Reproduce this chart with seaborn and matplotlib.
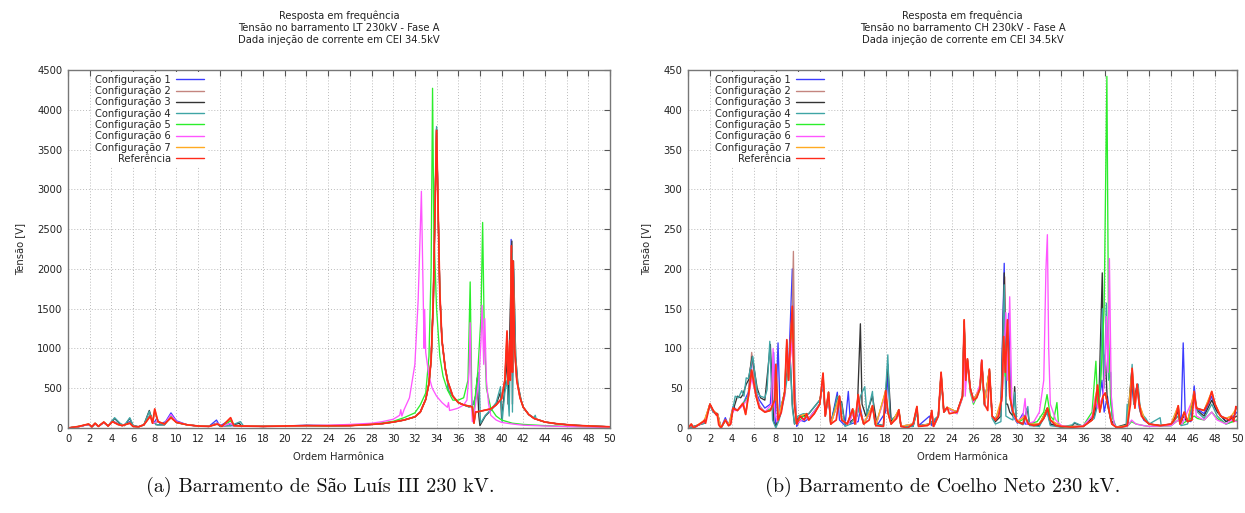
import matplotlib
matplotlib.use("Agg")
import matplotlib.pyplot as plt
import seaborn as sns
import pandas as pd
from matplotlib.lines import Line2D

sns.set_theme(style="white")
plt.rcParams["font.family"] = ["DejaVu Sans"]

# ---------------------------------------------------------------- series
SERIES_NAMES = ["Configuração 1", "Configuração 2", "Configuração 3", "Configuração 4",
                "Configuração 5", "Configuração 6", "Configuração 7", "Referência"]
SERIES_COLORS = ["#3b3bff", "#c4857f", "#333333", "#3fa5a5",
                 "#2bee2b", "#ff55ff", "#ffaa22", "#ff2a1a"]

X_TICKS = list(range(0, 51, 2))
A_Y_TICKS = list(range(0, 4501, 500))
B_Y_TICKS = list(range(0, 451, 50))

A_TITLE = ["Resposta em frequência", "Tensão no barramento LT 230kV - Fase A",
           "Dada injeção de corrente em CEI 34.5kV"]
B_TITLE = ["Resposta em frequência", "Tensão no barramento CH 230kV - Fase A",
           "Dada injeção de corrente em CEI 34.5kV"]
A_CAPTION = "(a) Barramento de São Luís III 230 kV."
B_CAPTION = "(b) Barramento de Coelho Neto 230 kV."
X_LABEL = "Ordem Harmônica"
Y_LABEL = "Tensão [V]"

# (harmonic order, voltage) pairs -- bus LT 230 kV
A_C1 = [(0,0),(1.0,18),(1.9,45),(2.2,15),(2.5,55),(2.8,20),(3.3,70),(3.7,25),(4.1,95),(4.6,50),(5.0,30),(5.7,80),(6.0,25),(6.5,15),(7.0,40),(7.6,170),(7.9,60),(8.2,120),(8.5,50),(9.0,80),(9.5,190),(10.0,90),(11.0,40),(12.0,25),(13.0,20),(13.7,100),(14.0,25),(14.7,80),(15.0,30),(16.0,25),(18.0,20),(20.0,25),(22.0,35),(24.0,30),(26.0,32),(28.0,45),(29.0,55),(30.0,75),(31.0,100),(32.0,140),(32.5,200),(33.0,360),(33.3,560),(33.5,860),(33.7,1600),(33.85,2700),(34.0,3760),(34.15,2700),(34.3,1700),(34.5,1100),(34.8,750),(35.0,600),(35.5,400),(36.0,320),(36.5,290),(37.0,275),(37.3,265),(37.45,70),(37.6,200),(38.0,210),(39.0,240),(39.5,290),(40.0,370),(40.3,600),(40.5,1100),(40.6,500),(40.75,850),(40.8,700),(40.88,2370),(41.0,650),(41.05,1900),(41.2,1000),(41.4,600),(41.7,380),(42.0,260),(42.5,170),(43.0,120),(44.0,75),(45.0,55),(46.0,42),(47.0,32),(48.0,26),(49.0,20),(50.0,15)]
A_C2 = [(0,0),(1.0,20),(1.9,48),(2.2,15),(2.5,58),(2.8,20),(3.3,72),(3.7,25),(4.1,85),(4.6,45),(5.0,30),(5.7,65),(6.0,20),(6.5,15),(7.0,40),(7.6,160),(7.8,60),(8.0,200),(8.3,80),(8.9,50),(9.5,150),(10.0,70),(11.0,40),(12.0,25),(13.0,20),(13.8,55),(14.2,20),(15.0,100),(15.3,30),(16.0,25),(18.0,20),(20.0,25),(22.0,30),(24.0,28),(26.0,30),(28.0,45),(29.0,55),(30.0,75),(31.0,100),(32.0,140),(32.5,200),(33.0,360),(33.3,560),(33.5,860),(33.7,1600),(33.85,2700),(34.0,3750),(34.15,2700),(34.3,1700),(34.5,1100),(34.8,750),(35.0,600),(35.5,400),(36.0,320),(36.5,290),(37.0,275),(37.3,265),(37.45,65),(37.6,200),(38.0,210),(39.0,240),(39.5,290),(40.0,370),(40.3,600),(40.5,1150),(40.6,550),(40.75,1000),(40.8,600),(40.9,2300),(41.0,700),(41.05,2050),(41.2,1000),(41.4,600),(41.7,380),(42.0,260),(42.5,170),(43.0,120),(44.0,75),(45.0,55),(46.0,42),(47.0,32),(48.0,26),(49.0,20),(50.0,15)]
A_C3 = [(0,0),(1.0,18),(1.9,45),(2.2,15),(2.5,55),(2.8,20),(3.3,70),(3.7,25),(4.3,120),(4.8,50),(5.2,30),(5.7,120),(6.0,30),(6.5,15),(7.0,40),(7.5,220),(7.8,80),(8.2,40),(8.9,40),(9.5,150),(10.0,70),(11.0,40),(12.0,25),(13.0,20),(13.7,60),(14.0,25),(15.0,30),(15.8,60),(16.0,25),(18.0,20),(20.0,25),(22.0,30),(24.0,28),(26.0,30),(28.0,45),(29.0,55),(30.0,75),(31.0,100),(32.0,140),(32.5,200),(33.0,360),(33.3,560),(33.5,860),(33.7,1600),(33.85,2700),(34.0,3760),(34.15,2700),(34.3,1700),(34.5,1100),(34.8,750),(35.0,620),(35.05,480),(35.5,400),(36.0,320),(36.5,290),(37.0,265),(37.4,300),(37.6,400),(37.75,630),(37.9,150),(38.0,30),(38.5,150),(39.0,220),(39.5,300),(39.9,450),(40.0,120),(40.3,500),(40.5,900),(40.6,300),(40.8,1500),(40.95,2350),(41.0,300),(41.1,2100),(41.3,900),(41.5,550),(41.8,350),(42.0,260),(42.5,170),(43.0,120),(44.0,75),(45.0,55),(46.0,42),(47.0,32),(48.0,26),(49.0,20),(50.0,15)]
A_C4 = [(0,0),(1.0,18),(1.9,45),(2.2,15),(2.5,55),(2.8,20),(3.3,70),(3.7,25),(4.3,130),(4.8,60),(5.2,30),(5.7,130),(6.0,35),(6.5,15),(7.0,40),(7.5,210),(7.8,80),(8.2,40),(8.9,40),(9.5,140),(10.0,70),(11.0,40),(12.0,25),(13.0,20),(13.7,55),(14.0,25),(15.0,30),(15.9,80),(16.2,25),(18.0,20),(20.0,25),(22.0,30),(24.0,28),(26.0,30),(28.0,45),(29.0,55),(30.0,75),(31.0,100),(32.0,140),(32.5,200),(33.0,360),(33.3,560),(33.5,860),(33.7,1600),(33.85,2750),(34.0,3790),(34.15,2700),(34.3,1700),(34.5,1100),(34.8,750),(35.0,620),(35.05,480),(35.5,400),(36.0,320),(36.5,290),(37.0,265),(37.4,300),(37.7,450),(37.9,700),(38.05,60),(38.5,160),(39.0,230),(39.5,320),(39.9,520),(40.05,80),(40.3,450),(40.5,600),(40.7,150),(40.85,1400),(40.95,2200),(41.0,200),(41.1,2000),(41.3,900),(41.5,550),(41.8,350),(42.0,260),(42.5,170),(43.0,130),(43.1,160),(43.2,110),(44.0,75),(45.0,55),(46.0,42),(47.0,32),(48.0,26),(49.0,20),(50.0,15)]
A_C5 = [(0,0),(1.0,20),(1.9,48),(2.2,15),(2.5,58),(2.8,20),(3.3,72),(3.7,25),(4.1,85),(4.6,45),(5.0,30),(5.7,65),(6.0,20),(6.5,15),(7.0,40),(7.6,160),(7.9,60),(8.2,80),(8.9,50),(9.5,150),(10.0,70),(11.0,40),(12.0,25),(13.0,20),(13.8,55),(14.2,20),(15.0,90),(15.3,30),(16.0,25),(18.0,20),(20.0,25),(22.0,30),(24.0,30),(26.0,35),(28.0,50),(29.0,65),(30.0,84),(31.0,130),(32.0,190),(32.5,290),(33.0,440),(33.3,900),(33.5,2000),(33.63,4270),(33.75,2500),(34.0,1500),(34.3,900),(34.6,650),(35.0,480),(35.5,350),(36.0,350),(36.5,380),(36.9,600),(37.1,1836),(37.25,400),(37.35,80),(37.5,300),(37.8,700),(38.1,1400),(38.25,2584),(38.4,1200),(38.6,500),(39.0,250),(39.5,150),(40.0,100),(41.0,60),(42.0,45),(44.0,30),(46.0,20),(48.0,15),(50.0,10)]
A_C6 = [(0,0),(1.0,18),(1.9,45),(2.2,15),(2.5,55),(2.8,20),(3.3,70),(3.7,25),(4.1,80),(4.6,45),(5.0,30),(5.7,60),(6.0,20),(6.5,15),(7.0,40),(7.6,150),(7.9,60),(8.2,80),(8.9,50),(9.5,170),(10.0,80),(11.0,40),(12.0,25),(13.0,20),(13.8,60),(14.2,20),(15.0,60),(15.3,30),(16.0,25),(18.0,20),(20.0,25),(22.0,30),(24.0,35),(26.0,45),(28.0,60),(29.0,80),(30.0,110),(30.6,160),(30.7,230),(30.8,150),(31.0,230),(31.5,380),(32.0,800),(32.3,1600),(32.5,2500),(32.6,2975),(32.75,1800),(32.85,1000),(32.9,1490),(33.0,950),(33.3,650),(33.6,500),(34.0,400),(34.5,320),(35.0,260),(35.1,320),(35.2,220),(35.5,230),(36.0,250),(36.5,290),(36.8,350),(37.0,700),(37.1,1323),(37.2,500),(37.3,80),(37.5,200),(37.9,600),(38.1,1100),(38.2,1540),(38.35,800),(38.45,1374),(38.6,600),(38.8,300),(39.0,160),(39.5,100),(40.0,70),(41.0,50),(42.0,35),(44.0,25),(46.0,18),(48.0,12),(50.0,8)]
A_C7 = [(0,0),(1.0,20),(1.9,50),(2.2,15),(2.5,60),(2.8,20),(3.3,75),(3.7,25),(4.1,80),(4.6,45),(5.0,30),(5.7,60),(6.0,20),(6.5,15),(7.0,40),(7.6,150),(7.8,60),(8.0,235),(8.3,80),(8.9,50),(9.5,130),(10.0,70),(11.0,40),(12.0,25),(13.0,20),(13.8,50),(14.2,20),(15.0,125),(15.3,30),(16.0,25),(18.0,20),(20.0,25),(22.0,30),(24.0,28),(26.0,30),(28.0,45),(29.0,55),(30.0,75),(31.0,100),(32.0,140),(32.5,200),(33.0,360),(33.3,560),(33.5,860),(33.7,1600),(33.85,2700),(34.0,3740),(34.15,2700),(34.3,1700),(34.5,1100),(34.8,750),(35.0,600),(35.5,400),(36.0,320),(36.5,290),(37.0,275),(37.3,265),(37.45,60),(37.6,200),(38.0,210),(39.0,240),(39.5,290),(40.0,370),(40.3,600),(40.5,1200),(40.6,550),(40.75,1080),(40.8,600),(40.9,2280),(41.0,700),(41.05,2090),(41.2,1000),(41.4,600),(41.7,380),(42.0,260),(42.5,170),(43.0,120),(44.0,75),(45.0,55),(46.0,42),(47.0,32),(48.0,26),(49.0,20),(50.0,15)]
A_REF = [(0,0),(1.0,20),(1.9,50),(2.2,15),(2.5,60),(2.8,20),(3.3,75),(3.7,25),(4.1,80),(4.6,45),(5.0,30),(5.7,60),(6.0,20),(6.5,15),(7.0,40),(7.6,150),(7.8,60),(8.0,240),(8.3,80),(8.9,50),(9.5,130),(10.0,70),(11.0,40),(12.0,25),(13.0,20),(13.8,50),(14.2,20),(15.0,130),(15.3,30),(16.0,25),(18.0,20),(20.0,25),(22.0,30),(24.0,28),(26.0,30),(28.0,45),(29.0,55),(30.0,75),(31.0,100),(32.0,140),(32.5,200),(33.0,360),(33.3,560),(33.5,860),(33.7,1600),(33.85,2700),(34.0,3740),(34.15,2700),(34.3,1700),(34.5,1100),(34.8,750),(35.0,600),(35.5,400),(36.0,320),(36.5,290),(37.0,275),(37.3,265),(37.45,60),(37.6,200),(38.0,210),(39.0,240),(39.5,290),(40.0,370),(40.3,600),(40.5,1220),(40.6,550),(40.75,1100),(40.8,600),(40.9,2290),(41.0,700),(41.05,2100),(41.2,1000),(41.4,600),(41.7,380),(42.0,260),(42.5,170),(43.0,120),(44.0,75),(45.0,55),(46.0,42),(47.0,32),(48.0,26),(49.0,20),(50.0,15)]

# (harmonic order, voltage) pairs -- bus CH 230 kV
B_C1 = [(0,0),(0.3,4),(0.5,0),(1.5,8),(2.0,29),(2.3,20),(2.7,17),(3.0,0),(3.4,13),(3.7,3),(4.1,27),(4.5,22),(5.0,30),(5.5,45),(5.85,90),(6.2,45),(6.5,35),(7.0,25),(7.5,30),(7.8,95),(7.95,5),(8.2,107),(8.4,15),(8.8,45),(9.0,85),(9.15,70),(9.5,200),(9.7,60),(9.9,2),(10.2,10),(10.6,8),(11.0,12),(12.0,30),(12.3,60),(12.5,15),(12.8,40),(13.0,5),(13.6,45),(13.8,10),(14.3,3),(14.6,46),(14.8,5),(15.5,8),(15.7,25),(16.0,5),(16.8,25),(17.2,3),(18.0,20),(18.2,65),(18.5,5),(19.2,20),(19.4,2),(20.5,3),(20.85,22),(21.0,3),(22.0,15),(22.2,3),(22.8,15),(23.05,68),(23.3,20),(23.6,25),(24.5,20),(25.0,40),(25.15,130),(25.3,60),(25.45,85),(25.7,50),(26.0,35),(26.6,50),(26.75,85),(27.0,30),(27.45,72),(27.7,15),(28.0,12),(28.5,25),(28.8,207),(28.95,40),(29.2,144),(29.4,30),(29.6,15),(30.0,6),(30.5,18),(30.7,5),(31.0,5),(32.0,4),(32.75,20),(33.0,5),(34.0,2),(36.0,2),(37.0,15),(37.5,40),(37.7,60),(37.9,20),(38.2,40),(38.5,10),(39.0,1),(40.0,3),(40.4,60),(40.6,30),(40.9,55),(41.1,25),(41.5,10),(42.0,5),(43.0,3),(44.0,5),(44.65,25),(44.9,5),(45.1,107),(45.3,10),(45.8,8),(46.1,53),(46.3,25),(47.0,18),(47.7,40),(48.0,25),(49.0,8),(49.5,12),(50.0,20)]
B_C2 = [(0,0),(0.3,5),(0.5,0),(1.5,9),(2.0,30),(2.3,22),(2.7,17),(3.0,0),(3.4,10),(3.7,3),(4.1,25),(4.5,22),(5.0,31),(5.3,20),(5.5,45),(5.8,95),(6.2,45),(6.5,28),(7.0,20),(7.5,22),(7.9,35),(8.0,78),(8.2,10),(8.8,45),(9.0,108),(9.2,60),(9.45,120),(9.6,222),(9.75,40),(9.9,5),(10.2,15),(10.8,18),(11.0,10),(11.5,18),(12.0,30),(12.3,68),(12.5,15),(12.8,45),(13.0,5),(13.8,40),(14.0,10),(14.5,5),(15.0,24),(15.2,5),(15.5,42),(15.7,20),(16.0,5),(16.8,28),(17.1,3),(18.0,46),(18.2,20),(18.5,5),(19.2,23),(19.4,2),(20.5,5),(20.85,27),(21.0,2),(22.0,5),(22.2,22),(22.35,2),(22.8,15),(23.05,70),(23.3,20),(23.6,26),(24.5,20),(25.0,40),(25.15,135),(25.3,60),(25.45,87),(25.7,50),(26.0,35),(26.6,50),(26.75,85),(27.0,30),(27.45,74),(27.7,15),(28.0,10),(28.5,30),(28.85,190),(29.0,60),(29.15,130),(29.35,40),(29.6,20),(30.0,8),(30.7,15),(31.0,5),(32.0,5),(32.75,25),(33.0,10),(34.0,2),(36.0,2),(36.8,10),(37.3,52),(37.5,20),(37.8,40),(38.0,44),(38.3,25),(38.6,5),(39.0,1),(40.0,3),(40.45,73),(40.7,25),(40.9,55),(41.1,30),(41.6,10),(42.0,5),(43.0,3),(44.0,5),(44.65,28),(44.8,5),(45.2,20),(45.5,8),(46.1,46),(46.3,25),(47.0,22),(47.7,45),(48.0,30),(48.5,15),(49.0,12),(49.5,15),(50.0,25)]
B_C3 = [(0,0),(0.5,2),(1.5,6),(2.0,30),(2.3,20),(2.7,18),(3.0,0),(3.4,10),(3.8,4),(4.1,22),(4.5,40),(4.8,38),(5.0,42),(5.3,55),(5.5,60),(5.85,90),(6.3,50),(6.6,38),(7.0,35),(7.5,105),(7.8,8),(8.0,2),(8.3,15),(8.8,45),(9.0,75),(9.3,90),(9.5,30),(9.7,5),(10.0,12),(10.5,15),(11.0,18),(12.0,35),(12.3,55),(12.5,18),(12.8,40),(13.0,5),(13.6,40),(14.0,32),(14.3,5),(14.8,8),(15.4,15),(15.7,131),(15.85,30),(16.2,15),(16.8,40),(17.2,5),(17.8,3),(18.2,80),(18.5,8),(19.2,20),(19.4,2),(20.5,2),(20.85,22),(21.0,3),(22.0,5),(22.8,15),(23.05,68),(23.3,20),(23.6,25),(24.5,20),(25.0,40),(25.15,134),(25.3,60),(25.45,86),(25.7,50),(26.0,35),(26.6,50),(26.75,84),(27.0,30),(27.45,73),(27.7,15),(28.0,8),(28.5,15),(28.8,195),(28.95,30),(29.1,30),(29.3,20),(29.6,15),(29.75,52),(29.9,10),(30.5,5),(30.9,25),(31.1,5),(32.0,3),(32.7,25),(33.0,5),(34.0,1),(35.0,3),(35.2,6),(36.0,2),(37.0,15),(37.45,50),(37.73,195),(37.85,60),(38.0,92),(38.2,30),(38.5,10),(39.0,1),(40.0,5),(40.4,70),(40.6,35),(40.95,55),(41.2,20),(41.6,10),(42.0,5),(43.0,3),(44.0,4),(44.6,20),(44.9,5),(45.1,15),(45.5,8),(46.1,40),(46.4,22),(47.0,15),(47.7,35),(48.2,20),(49.0,8),(50.0,15)]
B_C4 = [(0,0),(0.5,2),(1.5,6),(2.0,28),(2.3,20),(2.7,16),(3.0,0),(3.4,10),(3.8,3),(4.1,25),(4.3,40),(4.6,38),(4.9,47),(5.1,40),(5.3,63),(5.5,62),(5.9,90),(6.3,45),(6.6,40),(7.0,38),(7.2,48),(7.45,109),(7.7,10),(8.0,0),(8.3,10),(8.8,40),(9.0,60),(9.3,90),(9.5,25),(9.7,5),(10.0,15),(10.5,18),(11.0,18),(12.0,35),(12.3,55),(12.5,18),(12.8,45),(13.0,5),(13.6,40),(14.0,30),(14.3,2),(14.8,5),(15.5,20),(15.7,40),(16.1,52),(16.3,15),(16.8,46),(17.0,5),(17.8,3),(18.2,92),(18.4,10),(19.0,15),(19.2,23),(19.4,2),(20.5,2),(20.85,20),(21.0,2),(22.0,5),(22.8,15),(23.05,65),(23.3,20),(23.6,25),(24.5,20),(25.0,40),(25.15,130),(25.3,60),(25.45,85),(25.7,50),(26.0,33),(26.6,50),(26.75,82),(27.0,30),(27.45,72),(27.7,12),(28.0,5),(28.5,8),(28.8,180),(28.95,15),(29.3,12),(29.6,10),(29.75,45),(29.9,8),(30.5,4),(30.95,27),(31.1,3),(32.0,2),(32.7,20),(33.0,3),(34.0,1),(35.0,4),(35.2,7),(36.0,2),(37.0,12),(37.5,40),(37.75,150),(37.9,50),(38.1,157),(38.3,60),(38.5,70),(38.6,15),(39.0,1),(39.9,3),(40.0,30),(40.1,5),(40.45,80),(40.6,30),(41.0,55),(41.2,20),(41.7,12),(42.0,5),(43.0,13),(43.1,3),(44.0,3),(44.6,15),(44.9,3),(45.5,5),(46.1,35),(46.4,20),(47.0,12),(47.7,30),(48.2,15),(49.0,5),(50.0,10)]
B_C5 = [(0,0),(0.3,4),(0.5,0),(1.5,8),(2.0,30),(2.3,21),(2.7,17),(3.0,0),(3.4,9),(3.8,4),(4.1,24),(4.5,22),(5.0,30),(5.5,40),(5.8,68),(6.2,40),(6.6,25),(7.0,20),(7.6,25),(7.9,35),(8.0,75),(8.2,10),(8.8,45),(9.0,88),(9.2,70),(9.5,150),(9.7,30),(9.9,5),(10.5,15),(11.0,12),(12.0,30),(12.3,65),(12.5,15),(12.8,43),(13.0,5),(13.8,38),(14.0,10),(14.6,5),(15.1,22),(15.3,5),(15.5,40),(15.7,20),(16.0,5),(16.8,27),(17.1,3),(18.0,45),(18.2,20),(18.5,5),(19.2,22),(19.4,2),(20.5,5),(20.85,25),(21.0,2),(22.0,5),(22.2,20),(22.4,2),(22.8,15),(23.05,68),(23.3,20),(23.6,25),(24.5,18),(25.0,38),(25.15,130),(25.3,58),(25.45,84),(25.7,45),(26.0,30),(26.6,48),(26.75,80),(27.0,28),(27.45,70),(27.7,15),(28.0,10),(28.6,35),(28.75,105),(28.9,65),(29.1,125),(29.3,40),(29.6,18),(30.0,7),(30.7,12),(31.0,5),(31.8,8),(32.4,20),(32.7,42),(33.0,15),(33.3,10),(33.6,32),(33.75,3),(34.0,2),(35.0,1),(36.0,3),(36.8,20),(37.15,84),(37.3,30),(37.6,60),(37.9,150),(38.15,442),(38.3,120),(38.5,30),(38.8,5),(39.0,1),(40.0,2),(40.4,8),(40.8,5),(41.5,3),(42.0,2),(44.0,3),(44.65,10),(45.0,5),(46.1,15),(46.4,12),(47.0,10),(47.7,20),(48.2,12),(49.0,5),(50.0,10)]
B_C6 = [(0,0),(0.3,4),(0.5,0),(1.5,8),(2.0,30),(2.3,21),(2.7,17),(3.0,0),(3.4,10),(3.8,4),(4.1,22),(4.5,22),(5.0,28),(5.5,38),(5.8,63),(6.2,40),(6.6,25),(7.0,20),(7.6,30),(7.75,100),(7.9,20),(8.1,8),(8.8,40),(9.0,100),(9.2,70),(9.5,112),(9.7,30),(9.9,5),(10.5,12),(11.0,12),(12.0,30),(12.3,62),(12.5,15),(12.8,42),(13.0,5),(13.8,38),(14.0,10),(14.6,5),(15.1,20),(15.3,5),(15.5,38),(15.7,18),(16.0,5),(16.8,26),(17.1,3),(18.0,42),(18.2,20),(18.5,5),(19.2,20),(19.4,2),(20.5,5),(20.85,25),(21.0,2),(22.0,5),(22.2,20),(22.4,2),(22.8,15),(23.05,68),(23.3,20),(23.6,25),(24.5,18),(25.0,38),(25.15,125),(25.25,40),(25.45,85),(25.7,48),(26.0,32),(26.6,55),(26.75,86),(27.0,28),(27.45,70),(27.7,15),(28.0,10),(28.6,35),(28.8,100),(28.95,145),(29.1,60),(29.3,165),(29.5,30),(29.7,15),(30.0,7),(30.5,15),(30.7,37),(30.85,5),(31.5,8),(32.0,20),(32.4,60),(32.6,200),(32.73,243),(32.85,100),(33.0,30),(33.5,10),(34.0,3),(35.0,1),(36.0,3),(36.8,15),(37.1,40),(37.3,25),(37.8,40),(38.0,80),(38.1,140),(38.25,70),(38.38,213),(38.55,40),(38.8,5),(39.0,1),(40.0,2),(40.4,10),(40.8,5),(41.5,3),(42.0,2),(44.0,3),(44.65,10),(45.0,5),(46.1,40),(46.3,15),(47.0,10),(47.7,20),(48.2,10),(49.0,5),(49.5,10),(50.0,8)]
B_C7 = [(0,0),(0.3,5),(0.5,0),(1.5,10),(2.0,30),(2.3,22),(2.7,17),(3.0,0),(3.4,10),(3.7,3),(4.1,25),(4.5,22),(5.0,31),(5.25,17),(5.5,40),(5.8,72),(6.2,40),(6.5,25),(7.0,20),(7.5,22),(7.9,35),(8.0,79),(8.2,10),(8.8,45),(9.0,110),(9.15,60),(9.3,100),(9.5,152),(9.7,30),(9.9,5),(10.2,15),(10.8,18),(11.0,10),(11.5,18),(12.0,30),(12.3,69),(12.5,15),(12.8,45),(13.0,5),(13.8,40),(14.0,10),(14.5,5),(15.0,24),(15.2,5),(15.5,42),(15.7,20),(16.0,5),(16.8,28),(17.1,3),(18.0,47),(18.2,20),(18.5,5),(19.2,23),(19.4,2),(20.5,5),(20.85,27),(21.0,2),(22.0,5),(22.2,22),(22.35,2),(22.8,15),(23.05,70),(23.3,20),(23.6,26),(24.5,20),(25.0,40),(25.15,136),(25.3,60),(25.45,87),(25.7,50),(26.0,35),(26.6,50),(26.75,85),(27.0,30),(27.45,74),(27.7,15),(28.0,10),(28.6,40),(28.75,115),(28.9,70),(29.1,136),(29.3,40),(29.6,20),(30.0,8),(30.7,15),(31.0,5),(32.0,5),(32.75,25),(33.0,10),(34.0,2),(36.0,2),(36.8,10),(37.3,54),(37.5,20),(37.8,40),(38.0,44),(38.3,25),(38.6,5),(39.0,1),(40.0,3),(40.45,75),(40.7,25),(40.9,55),(41.1,30),(41.6,10),(42.0,5),(43.0,3),(44.0,5),(44.65,28),(44.8,5),(45.2,20),(45.5,8),(46.1,46),(46.3,25),(47.0,22),(47.7,46),(48.0,30),(48.5,15),(49.0,12),(49.5,15),(50.0,26)]
B_REF = [(0,0),(0.3,5),(0.5,0),(1.4,8),(1.5,10),(1.6,6),(2.0,30),(2.3,22),(2.6,16),(2.65,18),(2.8,4),(3.0,0),(3.4,10),(3.7,3),(3.9,5),(4.1,25),(4.5,22),(5.0,31),(5.25,17),(5.5,40),(5.8,73),(6.2,40),(6.5,25),(7.0,20),(7.5,22),(7.9,35),(8.0,80),(8.2,10),(8.5,20),(8.8,45),(9.0,111),(9.15,60),(9.3,100),(9.5,153),(9.7,30),(9.9,5),(10.2,15),(10.6,10),(10.8,18),(11.0,10),(11.5,18),(12.0,30),(12.3,69),(12.5,15),(12.8,45),(13.0,5),(13.5,10),(13.8,40),(14.0,10),(14.5,5),(15.0,24),(15.2,5),(15.5,42),(15.7,20),(16.0,5),(16.5,10),(16.8,28),(17.1,3),(17.8,2),(18.0,47),(18.2,20),(18.5,5),(19.0,12),(19.2,23),(19.4,2),(20.0,0),(20.5,5),(20.85,27),(21.0,2),(21.8,3),(22.0,5),(22.2,22),(22.35,2),(22.8,15),(23.05,70),(23.3,20),(23.6,26),(23.8,18),(24.5,20),(25.0,40),(25.15,136),(25.3,60),(25.45,87),(25.7,50),(26.0,35),(26.3,38),(26.6,50),(26.75,85),(27.0,30),(27.3,22),(27.45,74),(27.7,15),(28.0,10),(28.3,15),(28.6,40),(28.75,115),(28.9,70),(29.1,136),(29.3,40),(29.6,20),(30.0,8),(30.5,5),(30.7,15),(31.0,5),(31.5,3),(32.0,5),(32.4,12),(32.75,25),(33.0,10),(33.5,3),(34.0,2),(35.0,1),(36.0,2),(36.8,10),(37.1,30),(37.3,54),(37.5,20),(37.8,40),(38.0,44),(38.3,25),(38.6,5),(39.0,1),(39.5,1),(40.0,3),(40.3,30),(40.45,75),(40.7,25),(40.9,55),(41.1,30),(41.3,15),(41.6,10),(42.0,5),(43.0,3),(44.0,5),(44.4,12),(44.65,28),(44.8,5),(45.2,20),(45.5,8),(45.9,10),(46.1,46),(46.3,25),(47.0,22),(47.4,32),(47.7,46),(48.0,30),(48.5,15),(49.0,12),(49.3,10),(49.5,15),(49.7,8),(49.9,27),(50.0,25)]

A_SERIES = [A_C1, A_C2, A_C3, A_C4, A_C5, A_C6, A_C7, A_REF]
B_SERIES = [B_C1, B_C2, B_C3, B_C4, B_C5, B_C6, B_C7, B_REF]


def long_frame(series_list):
    rows = []
    for name, pts in zip(SERIES_NAMES, series_list):
        for k, (h, v) in enumerate(pts):
            rows.append((name, k, h, v))
    return pd.DataFrame(rows, columns=["serie", "passo", "harmonica", "tensao"])


FS = 7.2
W, H = 1245, 513
fig = plt.figure(figsize=(W / 100, H / 100), dpi=100)


def draw_panel(rect_px, series_list, yticks, title_lines, caption, caption_cx,
               legend_left_px):
    x0, x1, y_top, y_bot = rect_px
    ax = fig.add_axes([x0 / W, 1 - y_bot / H, (x1 - x0) / W, (y_bot - y_top) / H])
    df = long_frame(series_list)
    for name, color in zip(SERIES_NAMES, SERIES_COLORS):
        sub = df[df["serie"] == name]
        sns.lineplot(data=sub, x="harmonica", y="tensao", sort=False, estimator=None,
                     color=color, lw=1.25 if name == "Referência" else 0.95,
                     ax=ax, legend=False)
    ax.set_xlim(0, 50)
    ax.set_ylim(yticks[0], yticks[-1])
    ax.set_xticks(X_TICKS)
    ax.set_yticks(yticks)
    ax.grid(True, linestyle=(0, (1, 2)), color="#bbbbbb", lw=0.7)
    ax.tick_params(direction="in", length=4, width=0.8, color="#555555",
                   labelsize=FS, top=True, right=True, pad=4, labelcolor="#222222")
    for sp in ax.spines.values():
        sp.set_color("#777777")
        sp.set_linewidth(1.0)
    ax.set_xlabel(X_LABEL, fontsize=FS, labelpad=6)
    ax.set_ylabel(Y_LABEL, fontsize=FS, labelpad=9)

    handles = [Line2D([], [], color=c, lw=1.0) for c in SERIES_COLORS]
    leg = ax.legend(handles, SERIES_NAMES, loc="upper left", markerfirst=False,
                    bbox_to_anchor=((legend_left_px - x0) / (x1 - x0), 0.995),
                    fontsize=FS, frameon=True, framealpha=1, facecolor="white",
                    edgecolor="none", fancybox=False, borderpad=0.3,
                    handlelength=2.8, handletextpad=0.5, labelspacing=0.13,
                    borderaxespad=0)
    leg.set_zorder(5)

    cx = (x0 + x1) / 2 / W
    fig.text(cx, 1 - 11 / H, "\n".join(title_lines), ha="center", va="top",
             fontsize=FS, linespacing=1.25, color="#222222")
    fig.text(caption_cx / W, 1 - 487 / H, caption, ha="center", va="center",
             fontsize=14.5, family=["cmr10", "Liberation Serif"], color="#111111")
    return ax


ax_a = draw_panel((68, 610, 70, 428), A_SERIES, A_Y_TICKS, A_TITLE, A_CAPTION, 320, 92)
ax_b = draw_panel((688, 1237, 70, 428), B_SERIES, B_Y_TICKS, B_TITLE, B_CAPTION, 943, 712)

fig.savefig("out.png", dpi=100, facecolor="white")
